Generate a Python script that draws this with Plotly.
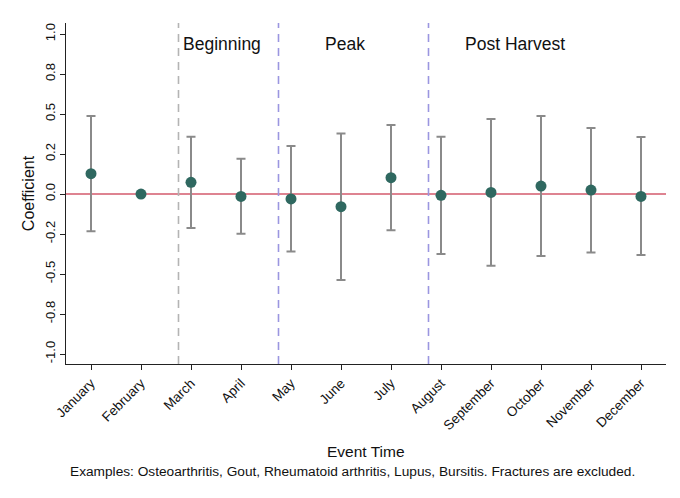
import plotly.graph_objects as go

# Monthly event-study coefficients with 95% confidence intervals
months = ["January", "February", "March", "April", "May", "June", "July",
          "August", "September", "October", "November", "December"]
coef = [0.127, 0.0, 0.073, -0.015, -0.031, -0.079, 0.102,
        -0.008, 0.010, 0.050, 0.025, -0.015]
ci_upper = [0.488, None, 0.358, 0.221, 0.300, 0.379, 0.431,
            0.358, 0.469, 0.488, 0.413, 0.356]
ci_lower = [-0.233, None, -0.213, -0.248, -0.360, -0.538, -0.227,
            -0.375, -0.448, -0.388, -0.365, -0.381]

# Season boundaries (in month-index units) and season labels
season_breaks = [1.75, 3.75, 6.75]
season_colors = ["#b4b4b4", "#9b96e0", "#9b96e0"]
season_names = ["Beginning", "Peak", "Post Harvest"]
season_label_x = [2.61, 5.08, 8.47]

y_ticks = [1.0, 0.75, 0.5, 0.25, 0.0, -0.25, -0.5, -0.75, -1.0]
y_tick_text = ["1.0", "0.8", "0.5", "0.2", "0.0", "-0.2", "-0.5", "-0.8", "-1.0"]

FONT = "Liberation Sans, Arial, Helvetica, sans-serif"

x_idx = list(range(len(months)))
err_plus = [(u - c) if u is not None else 0 for u, c in zip(ci_upper, coef)]
err_minus = [(c - l) if l is not None else 0 for l, c in zip(ci_lower, coef)]
has_ci = [u is not None for u in ci_upper]

fig = go.Figure()

# Confidence interval bars (months with an estimated interval)
fig.add_trace(go.Scatter(
    x=[x for x, h in zip(x_idx, has_ci) if h],
    y=[c for c, h in zip(coef, has_ci) if h],
    mode="markers",
    marker=dict(size=1, color="rgba(0,0,0,0)"),
    error_y=dict(type="data", symmetric=False,
                 array=[e for e, h in zip(err_plus, has_ci) if h],
                 arrayminus=[e for e, h in zip(err_minus, has_ci) if h],
                 color="#8a8a8a", thickness=2, width=4.5),
    hoverinfo="skip", showlegend=False,
))

# Zero reference line
fig.add_shape(type="line", xref="paper", yref="y", x0=0, x1=1, y0=0, y1=0,
              line=dict(color="#d35a6c", width=1.5), layer="below")

# Season boundary lines
for xb, col in zip(season_breaks, season_colors):
    fig.add_shape(type="line", xref="x", yref="paper", x0=xb, x1=xb, y0=0, y1=1,
                  line=dict(color=col, width=1.6, dash="8px,6px"), layer="below")

# Point estimates
fig.add_trace(go.Scatter(
    x=x_idx, y=coef, mode="markers",
    marker=dict(size=11, color="#2f6860"),
    showlegend=False,
))

for name, xl in zip(season_names, season_label_x):
    fig.add_annotation(x=xl, y=0.94, xref="x", yref="y", text=name,
                       showarrow=False, font=dict(family=FONT, size=17.5, color="#111"))

fig.add_annotation(x=0.5, y=-0.258, xref="paper", yref="paper", text="Event Time",
                   showarrow=False, yanchor="middle",
                   font=dict(family=FONT, size=15.5, color="#111"))
fig.add_annotation(x=0.478, y=-0.314, xref="paper", yref="paper",
                   text="Examples: Osteoarthritis, Gout, Rheumatoid arthritis, Lupus, Bursitis. Fractures are excluded.",
                   showarrow=False, yanchor="middle",
                   font=dict(family=FONT, size=13.7, color="#111"))

fig.update_layout(
    width=680, height=498,
    margin=dict(l=66, r=14, t=23, b=134),
    paper_bgcolor="white", plot_bgcolor="white",
    font=dict(family=FONT, color="#111"),
    xaxis=dict(range=[-0.5, 11.5], tickmode="array", tickvals=x_idx, ticktext=months,
               tickangle=-45, ticks="outside", ticklen=5, tickcolor="#222",
               showline=True, linecolor="#222", linewidth=1.2, showgrid=False,
               zeroline=False, tickfont=dict(size=13.5)),
    yaxis=dict(range=[-1.0625, 1.069], tickmode="array", tickvals=y_ticks,
               ticktext=y_tick_text, tickangle=-90, ticks="outside", ticklen=5,
               tickcolor="#222", showline=True, linecolor="#222", linewidth=1.2,
               showgrid=False, zeroline=False, tickfont=dict(size=13),
               title=dict(text="Coefficient", font=dict(size=16), standoff=4)),
)

fig.write_html("out.html")
